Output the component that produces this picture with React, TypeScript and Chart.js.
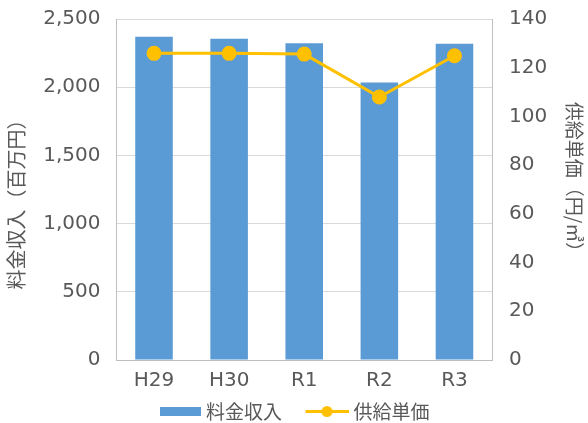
import React, { useEffect, useRef } from "react";
import { Chart, registerables } from "chart.js";

Chart.register(...registerables);

const categories = ["H29", "H30", "R1", "R2", "R3"];
const revenue = [2370, 2355, 2323, 2034, 2318];
const unitPrice = [125.9, 125.9, 125.6, 108.0, 124.9];
const revenueLabel = "料金収入";
const priceLabel = "供給単価";
const leftTitle = "料金収入（百万円）";
const rightTitle = "供給単価（円/㎥）";

const BAR_COLOR = "#5B9BD5";
const LINE_COLOR = "#FFC000";
const TEXT_COLOR = "#595959";
const GRID_COLOR = "#D9D9D9";
const BORDER_COLOR = "#BFBFBF";
const NUM_FONT = '"DejaVu Sans", "Noto Sans CJK JP", sans-serif';
const JP_FONT = '"Noto Sans CJK JP", "DejaVu Sans", sans-serif';

const LEFT_TITLE_SIZE = 20;
const RIGHT_TITLE_SIZE = 19;
const LEFT_TITLE_SHIFT = 10;
const RIGHT_TITLE_SHIFT = -8;

const BOX_W = 62;
const IMG_W = BOX_W + 9;

function makeBarIcon(): HTMLCanvasElement {
  const c = document.createElement("canvas");
  c.width = IMG_W;
  c.height = 9;
  const ctx = c.getContext("2d")!;
  ctx.fillStyle = BAR_COLOR;
  ctx.fillRect(IMG_W - 41, 0, 41, 9);
  return c;
}

function makeLineIcon(): HTMLCanvasElement {
  const c = document.createElement("canvas");
  c.width = IMG_W;
  c.height = 13;
  const ctx = c.getContext("2d")!;
  const x0 = IMG_W - 43;
  ctx.strokeStyle = LINE_COLOR;
  ctx.lineWidth = 3;
  ctx.beginPath();
  ctx.moveTo(x0, 6.5);
  ctx.lineTo(x0 + 43, 6.5);
  ctx.stroke();
  ctx.fillStyle = LINE_COLOR;
  ctx.beginPath();
  ctx.arc(x0 + 21.5, 6.5, 5.5, 0, Math.PI * 2);
  ctx.fill();
  return c;
}

const legendShift = {
  id: "legendShift",
  afterLayout(chart: any) {
    const lg = chart.legend;
    if (lg) {
      lg.left -= 13;
      lg.right -= 13;
    }
  },
};

// Axis titles: space is reserved by Chart.js titles (transparent), text drawn here
const axisTitles = {
  id: "axisTitles",
  afterDraw(chart: any) {
    const ctx = chart.ctx as CanvasRenderingContext2D;
    const area = chart.chartArea;
    const midY = (area.top + area.bottom) / 2;
    const ys = chart.scales.y;
    const yr = chart.scales.y1;
    ctx.save();
    ctx.fillStyle = TEXT_COLOR;
    ctx.textAlign = "center";
    ctx.textBaseline = "middle";
    // left
    ctx.save();
    ctx.font = `${LEFT_TITLE_SIZE}px ${JP_FONT}`;
    ctx.translate(ys.left + (LEFT_TITLE_SIZE * 1.2) / 2, midY + LEFT_TITLE_SHIFT);
    ctx.rotate(-Math.PI / 2);
    ctx.fillText(leftTitle, 0, 0);
    ctx.restore();
    // right
    ctx.save();
    ctx.font = `${RIGHT_TITLE_SIZE}px ${JP_FONT}`;
    ctx.translate(yr.right - (RIGHT_TITLE_SIZE * 1.2) / 2, midY + RIGHT_TITLE_SHIFT);
    ctx.rotate(Math.PI / 2);
    ctx.fillText(rightTitle, 0, 0);
    ctx.restore();
    ctx.restore();
  },
};

export default function App() {
  const ref = useRef<HTMLCanvasElement | null>(null);

  useEffect(() => {
    if (!ref.current) return;
    const barIcon = makeBarIcon();
    const lineIcon = makeLineIcon();
    const chart = new Chart(ref.current, {
      type: "bar",
      data: {
        labels: categories,
        datasets: [
          {
            type: "line",
            label: priceLabel,
            data: unitPrice,
            yAxisID: "y1",
            borderColor: LINE_COLOR,
            backgroundColor: LINE_COLOR,
            borderWidth: 3,
            pointRadius: 6,
            pointHoverRadius: 6,
            pointBackgroundColor: LINE_COLOR,
            pointBorderColor: LINE_COLOR,
            tension: 0,
          } as any,
          {
            type: "bar",
            label: revenueLabel,
            data: revenue,
            yAxisID: "y",
            backgroundColor: BAR_COLOR,
            borderWidth: 0,
            categoryPercentage: 0.5,
            barPercentage: 1,
          } as any,
        ],
      },
      plugins: [legendShift, axisTitles],
      options: {
        responsive: false,
        animation: false,
        locale: "en-US",
        layout: { padding: { left: 4, right: 2, top: 19, bottom: -8 } },
        plugins: {
          tooltip: { enabled: false },
          legend: {
            position: "bottom",
            labels: {
              usePointStyle: true,
              pointStyleWidth: BOX_W,
              padding: 0,
              color: TEXT_COLOR,
              font: { family: JP_FONT, size: 19 },
              generateLabels: (ch: any) => {
                const items = Chart.defaults.plugins.legend.labels.generateLabels(ch);
                items.forEach((it: any) => {
                  it.pointStyle = it.datasetIndex === 1 ? barIcon : lineIcon;
                  it.rotation = 0;
                });
                return items.reverse();
              },
            },
          },
        },
        scales: {
          x: {
            grid: { display: false, drawTicks: false },
            border: { display: true, color: BORDER_COLOR, width: 1 },
            ticks: {
              color: TEXT_COLOR,
              font: { family: NUM_FONT, size: 20 },
              padding: 9,
            },
          },
          y: {
            position: "left",
            min: 0,
            max: 2500,
            grid: { color: GRID_COLOR, drawTicks: true, tickLength: 12, tickColor: "rgba(0,0,0,0)" },
            border: { display: true, color: BORDER_COLOR, width: 1 },
            ticks: {
              stepSize: 500,
              color: TEXT_COLOR,
              font: { family: NUM_FONT, size: 20 },
              padding: 4,
            },
            title: {
              display: true,
              text: leftTitle,
              color: "rgba(0,0,0,0)",
              font: { family: JP_FONT, size: 21 },
              padding: { top: 0, bottom: 10 },
            },
          },
          y1: {
            position: "right",
            min: 0,
            max: 140,
            grid: { display: false, drawTicks: true, tickLength: 13, tickColor: "rgba(0,0,0,0)" },
            border: { display: true, color: BORDER_COLOR, width: 1 },
            ticks: {
              stepSize: 20,
              color: TEXT_COLOR,
              font: { family: NUM_FONT, size: 20 },
              padding: 4,
            },
            title: {
              display: true,
              text: rightTitle,
              color: "rgba(0,0,0,0)",
              font: { family: JP_FONT, size: 19 },
              padding: { top: 0, bottom: 12 },
            },
          },
        },
      } as any,
    });
    return () => chart.destroy();
  }, []);

  return (
    <div style={{ position: "fixed", left: 0, top: 0, width: 588, height: 423, background: "#fff" }}>
      <canvas ref={ref} width={588} height={423} style={{ display: "block" }} />
    </div>
  );
}
